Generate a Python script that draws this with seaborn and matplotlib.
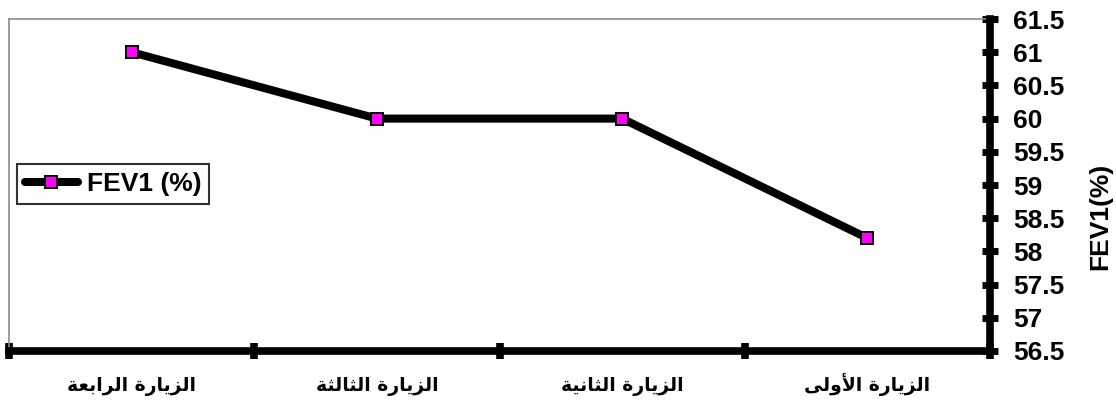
import numpy as np
import pandas as pd
import matplotlib
matplotlib.use("Agg")
import matplotlib.pyplot as plt
import seaborn as sns

# Visits in chronological order and the FEV1 (%) measured at each
visits = ["الزيارة الأولى", "الزيارة الثانية", "الزيارة الثالثة", "الزيارة الرابعة"]
fev1 = [58.2, 60.0, 60.0, 61.0]
series_label = "FEV1 (%)"
y_label = "FEV1(%)"
y_ticks = [56.5, 57, 57.5, 58, 58.5, 59, 59.5, 60, 60.5, 61, 61.5]

# matplotlib has no Arabic shaping, so contextual forms are chosen here
# (isolated, final, initial, medial) and the string is put in visual order.
FORMS = {
    "ا": ("\uFE8D", "\uFE8E", None, None),
    "أ": ("\uFE83", "\uFE84", None, None),
    "ب": ("\uFE8F", "\uFE90", "\uFE91", "\uFE92"),
    "ة": ("\uFE93", "\uFE94", None, None),
    "ث": ("\uFE99", "\uFE9A", "\uFE9B", "\uFE9C"),
    "ر": ("\uFEAD", "\uFEAE", None, None),
    "ز": ("\uFEAF", "\uFEB0", None, None),
    "ع": ("\uFEC9", "\uFECA", "\uFECB", "\uFECC"),
    "ل": ("\uFEDD", "\uFEDE", "\uFEDF", "\uFEE0"),
    "ن": ("\uFEE5", "\uFEE6", "\uFEE7", "\uFEE8"),
    "و": ("\uFEED", "\uFEEE", None, None),
    "ى": ("\uFEEF", "\uFEF0", "\uFBE8", "\uFBE9"),
    "ي": ("\uFEF1", "\uFEF2", "\uFEF3", "\uFEF4"),
}
LAM_ALEF = {"ا": ("\uFEFB", "\uFEFC"), "أ": ("\uFEF7", "\uFEF8")}


def _dual(c):
    return c in FORMS and FORMS[c][2] is not None


def shape_arabic(text):
    chars = list(text)
    n = len(chars)
    out = []
    i = 0
    while i < n:
        c = chars[i]
        if c not in FORMS:
            out.append(c)
            i += 1
            continue
        prev = chars[i - 1] if i > 0 else None
        joins_prev = prev is not None and _dual(prev)
        if c == "ل" and i + 1 < n and chars[i + 1] in LAM_ALEF:
            out.append(LAM_ALEF[chars[i + 1]][1 if joins_prev else 0])
            i += 2
            continue
        nxt = chars[i + 1] if i + 1 < n else None
        joins_next = _dual(c) and nxt in FORMS
        iso, fin, ini, med = FORMS[c]
        if joins_prev and joins_next:
            out.append(med)
        elif joins_prev:
            out.append(fin)
        elif joins_next:
            out.append(ini)
        else:
            out.append(iso)
        i += 1
    return "".join(reversed(out))


df = pd.DataFrame({"pos": np.arange(len(visits)), "visit": visits, "fev1": fev1})

sns.set_theme(style="white")
plt.rcParams["font.family"] = ["Liberation Sans", "DejaVu Sans"]
plt.rcParams["font.weight"] = "bold"
for key in ("text.color", "axes.labelcolor", "xtick.color", "ytick.color"):
    plt.rcParams[key] = "black"

fig = plt.figure(figsize=(11.16, 4.07), dpi=100)
ax = fig.add_axes([0.0081, 0.1376, 0.879, 0.8157])

sns.lineplot(
    data=df, x="pos", y="fev1", ax=ax, sort=False,
    color="black", linewidth=5.8, marker="s", markersize=8.5,
    markerfacecolor="#FF00FF", markeredgecolor="black", markeredgewidth=1.4,
    label=series_label, zorder=3,
)

# Later visits to the left, value axis on the right
ax.set_xlim(len(visits) - 0.5, -0.5)
ax.set_ylim(y_ticks[0], y_ticks[-1])

ax.set_xticks(np.arange(-0.5, len(visits)), labels=[""] * (len(visits) + 1))
ax.set_xticks(df["pos"], labels=[shape_arabic(v) for v in visits], minor=True)
ax.tick_params(axis="x", which="major", direction="inout", length=12,
               width=5.5, color="black", bottom=True)
ax.tick_params(axis="x", which="minor", length=0, pad=29, bottom=True)
for t in ax.get_xticklabels(minor=True):
    t.set_fontfamily(["DejaVu Sans"])
    t.set_fontsize(13.5)
    t.set_fontweight("bold")
    t.set_verticalalignment("baseline")
    t.set_color("black")

ax.yaxis.tick_right()
ax.yaxis.set_label_position("right")
ax.set_yticks(y_ticks, labels=[f"{v:g}" for v in y_ticks])
ax.tick_params(axis="y", which="major", direction="inout", length=11,
               width=5, color="black", right=True, left=False, pad=11,
               labelsize=19)
for t in ax.get_yticklabels():
    t.set_fontweight("bold")

ax.set_xlabel("")
ax.set_ylabel(y_label, fontsize=19, fontweight="bold")
ax.yaxis.set_label_coords(1.1, 0.404)

for side in ("top", "left"):
    ax.spines[side].set_color("#8c8c8c")
    ax.spines[side].set_linewidth(1.2)
for side in ("right", "bottom"):
    ax.spines[side].set_color("black")
    ax.spines[side].set_linewidth(5.5)
    ax.spines[side].set_zorder(4)

leg = ax.legend(
    loc="upper left", bbox_to_anchor=(17 / 1116, 1 - 164 / 407),
    bbox_transform=fig.transFigure, borderaxespad=0, frameon=True,
    fancybox=False, handlelength=2.0, handletextpad=0.35, borderpad=0.3,
    prop={"size": 19, "weight": "bold"},
)
leg.get_frame().set_edgecolor("black")
leg.get_frame().set_linewidth(1.5)
for txt in leg.get_texts():
    txt.set_color("black")

fig.savefig("out.png", dpi=100, facecolor="white")
